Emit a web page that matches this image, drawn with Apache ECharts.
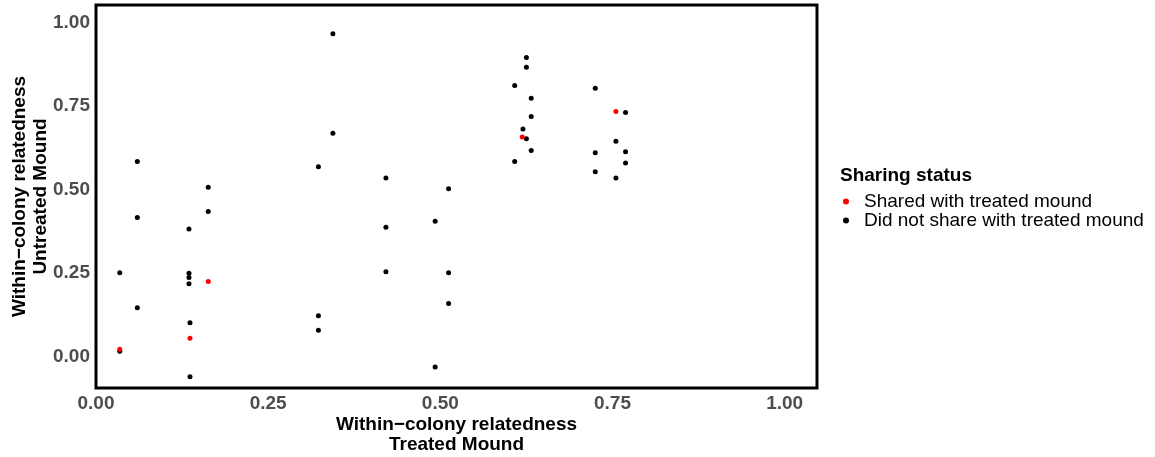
<!DOCTYPE html>
<html>
<head>
<meta charset="utf-8">
<script src="https://cdn.jsdelivr.net/npm/echarts@6/dist/echarts.min.js"></script>
<style>html,body{margin:0;padding:0;background:#fff}#c{width:1155px;height:457px}</style>
</head>
<body>
<div id="c"></div>
<script>
const sharedX = [0.0345, 0.1365, 0.163, 0.619, 0.755];
const sharedY = [0.022, 0.055, 0.225, 0.657, 0.733];
const notSharedX = [0.0345, 0.0345, 0.060, 0.060, 0.060, 0.135, 0.135, 0.135, 0.135, 0.1365, 0.1365,
  0.163, 0.163, 0.323, 0.323, 0.323, 0.344, 0.344, 0.421, 0.421, 0.421, 0.4925, 0.4925,
  0.512, 0.512, 0.512, 0.625, 0.625, 0.608, 0.632, 0.632, 0.620, 0.625, 0.632, 0.608,
  0.725, 0.769, 0.755, 0.725, 0.769, 0.769, 0.725, 0.755];
const notSharedY = [0.251, 0.016, 0.584, 0.416, 0.146, 0.382, 0.249, 0.237, 0.218, 0.101, -0.060,
  0.507, 0.434, 0.568, 0.122, 0.079, 0.966, 0.668, 0.534, 0.387, 0.254, 0.405, -0.031,
  0.502, 0.251, 0.159, 0.895, 0.866, 0.811, 0.773, 0.718, 0.681, 0.652, 0.617, 0.584,
  0.803, 0.730, 0.644, 0.610, 0.613, 0.579, 0.553, 0.534];
const seriesNames = ['Shared with treated mound', 'Did not share with treated mound'];
const xTitle = 'Within\u2212colony relatedness\nTreated Mound';
const yTitle = 'Within\u2212colony relatedness\nUntreated Mound';
const legendTitle = 'Sharing status';
const tickValues = [0, 0.25, 0.5, 0.75, 1.0];

const zip = (a, b) => a.map((v, i) => [v, b[i]]);
const font = 'Liberation Sans, Arial, Helvetica, sans-serif';
const chart = echarts.init(document.getElementById('c'), null, {renderer: 'canvas'});
chart.setOption({
  animation: false,
  backgroundColor: '#fff',
  title: {
    text: legendTitle, left: 835, top: 161,
    textStyle: {fontFamily: font, fontSize: 19, fontWeight: 'bold', color: '#000'}
  },
  legend: {
    orient: 'vertical', left: 838, top: 187, itemGap: 0,
    itemWidth: 6, itemHeight: 6, icon: 'circle',
    data: seriesNames,
    textStyle: {fontFamily: font, fontSize: 19, color: '#000', padding: [0, 0, 0, 10], lineHeight: 19}
  },
  grid: {left: 96, right: 338, top: 5, bottom: 69, outerBoundsMode: 'none', containLabel: false,
    show: true, borderColor: '#000', borderWidth: 3, backgroundColor: '#fff'},
  xAxis: {
    type: 'value', min: 0, max: 1.047, interval: 0.25,
    name: xTitle, nameLocation: 'middle', nameGap: 27, nameMoveOverlap: false,
    nameTextStyle: {fontFamily: font, fontSize: 19, fontWeight: 'bold', color: '#000', lineHeight: 20},
    axisLine: {show: false}, axisTick: {show: false}, splitLine: {show: false},
    axisLabel: {fontFamily: font, fontSize: 19, fontWeight: 'bold', color: '#4d4d4d', margin: 6,
      customValues: tickValues, formatter: v => v.toFixed(2)}
  },
  yAxis: {
    type: 'value', min: -0.094, max: 1.052,
    name: yTitle, nameLocation: 'middle', nameGap: 45, nameRotate: 90, nameMoveOverlap: false,
    nameTextStyle: {fontFamily: font, fontSize: 19, fontWeight: 'bold', color: '#000', lineHeight: 21},
    axisLine: {show: false}, axisTick: {show: false}, splitLine: {show: false},
    axisLabel: {fontFamily: font, fontSize: 19, fontWeight: 'bold', color: '#4d4d4d', margin: 6,
      customValues: tickValues, formatter: v => v.toFixed(2)}
  },
  series: [
    {name: seriesNames[0], type: 'scatter', data: zip(sharedX, sharedY), symbolSize: 5, itemStyle: {color: '#ff0000', opacity: 1}, z: 3},
    {name: seriesNames[1], type: 'scatter', data: zip(notSharedX, notSharedY), symbolSize: 5, itemStyle: {color: '#000000', opacity: 1}, z: 2}
  ]
});
</script>
</body>
</html>
